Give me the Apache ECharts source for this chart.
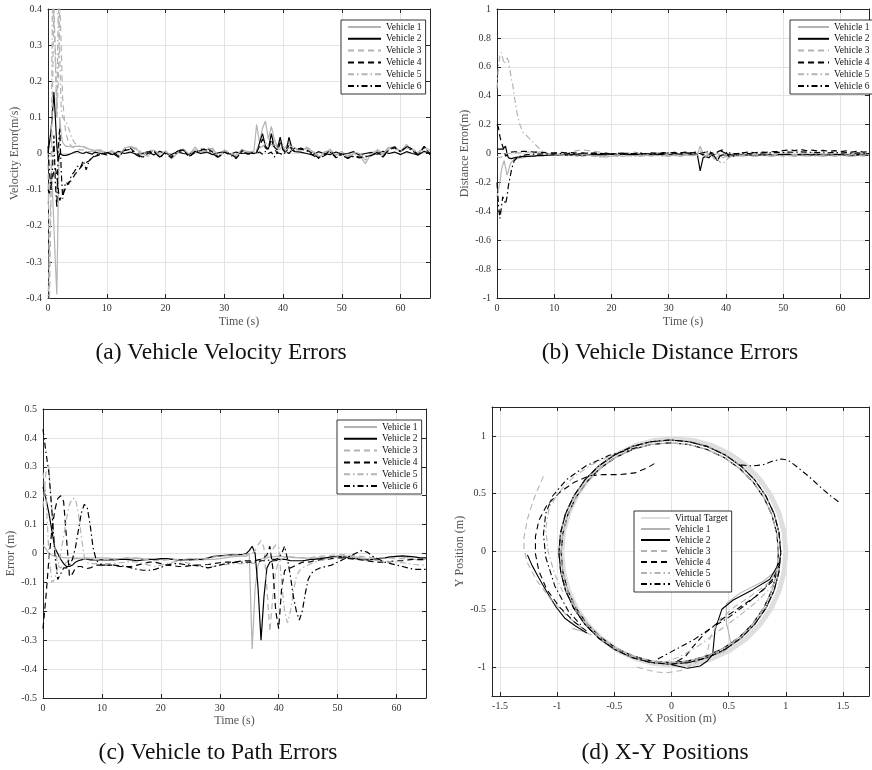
<!DOCTYPE html>
<html><head><meta charset="utf-8">
<script src="https://cdn.jsdelivr.net/npm/echarts@6/dist/echarts.min.js"></script>
<style>html,body{margin:0;padding:0;background:#fff}#c{width:872px;height:770px}</style>
</head><body><div id="c"></div>
<script>
// ---------- DATA ----------
const names = ['Vehicle 1','Vehicle 2','Vehicle 3','Vehicle 4','Vehicle 5','Vehicle 6'];

// time samples for panels (a) and (b)
const tAB = [0,0.25,0.5,0.75,1,1.25,1.5,1.75,2,2.25,2.5,2.75,3,3.5,4,4.5,5,5.5,6,6.5,7,7.5,8,9,10,
 11,12,13,14,15,16,17,18,19,20,21,22,23,24,25,26,27,28,29,30,31,32,33,34,35,
 35.5,36,36.5,37,37.5,38,38.5,39,39.5,40,40.5,41,41.5,42,
 43,44,45,46,47,48,49,50,51,52,53,54,55,56,57,58,59,60,61,62,63,64,65];

// (a) velocity errors (m/s)
const velV1 = [-0.14,-0.1,-0.06,-0.1,-0.2,-0.3,-0.39,-0.12,0.1,0.05,0.03,0.025,0.02,0.02,0.018,0.02,0.02,0.02,0.018,0.015,0.012,0.01,0.008,0.01,0.0,
 0.005,-0.012,0.015,0.02,0.012,0.0,-0.008,0.01,-0.01,0.006,-0.015,0.0,0.012,-0.006,0.018,0.0,0.01,0.015,-0.01,0.004,0.0,-0.01,0.01,0.005,0.0,
 0.08,0.03,0.07,0.09,0.04,0.075,0.04,0.02,0.03,0.01,0.02,0.03,0.012,0.015,
 0.01,0.015,0.005,-0.01,0.0,0.012,-0.005,0.006,-0.012,0.0,-0.005,-0.028,0.0,0.01,-0.006,0.015,0.02,0.004,0.025,0.01,0.0,0.02,0.008];
const velV2 = [0.0,0.03,0.06,0.11,0.17,0.1,0.02,-0.02,0.0,0.002,-0.005,-0.004,-0.005,-0.003,0.0,0.004,0.006,0.002,0.0,0.004,0.001,-0.002,0.004,0.0,0.002,
 -0.003,0.006,0.0,0.004,-0.002,0.0,0.005,-0.004,0.006,0.0,-0.003,0.005,0.0,-0.002,0.006,0.0,0.004,-0.003,0.002,0.005,-0.002,0.004,0.0,0.002,0.0,
 0.002,0.03,0.055,0.02,0.012,0.055,0.018,0.01,0.045,0.01,0.004,0.045,0.015,0.005,
 0.004,0.0,-0.004,0.005,0.0,-0.003,0.004,-0.002,0.0,0.005,-0.004,0.0,0.003,-0.002,0.006,0.0,0.004,-0.003,0.005,0.0,-0.004,0.006,0.0];
const velV3 = [0.0,-0.42,-0.42,0.15,0.42,0.42,0.1,0.2,0.42,0.3,0.15,0.1,0.06,0.03,0.02,0.015,0.012,0.01,0.01,0.008,0.005,0.006,0.004,0.005,0.0,
 0.01,-0.008,0.012,0.018,0.01,-0.004,0.005,0.012,-0.006,0.008,-0.01,0.004,0.015,-0.004,0.01,0.005,0.018,0.008,-0.008,0.01,0.002,-0.006,0.012,0.004,0.006,
 0.01,0.02,0.015,0.03,0.02,0.025,0.03,0.015,0.01,0.02,0.005,0.015,0.02,0.01,
 0.012,0.018,0.008,-0.006,0.004,0.01,-0.008,0.0,-0.01,0.004,0.0,-0.018,-0.004,0.012,0.0,0.018,0.015,0.008,0.02,0.012,0.004,0.015,0.01];
const velV4 = [-0.1,-0.11,-0.09,-0.07,-0.05,-0.04,-0.06,-0.1,-0.13,-0.12,-0.115,-0.105,-0.095,-0.08,-0.075,-0.06,-0.05,-0.04,-0.03,-0.025,-0.02,-0.012,-0.008,-0.002,0.002,
 0.004,-0.006,0.01,0.015,0.0,-0.01,0.004,0.008,-0.012,0.004,-0.008,0.006,0.012,-0.01,0.005,0.008,0.015,0.004,-0.01,0.006,0.0,-0.012,0.008,0.0,0.004,
 0.004,0.02,0.04,0.015,0.01,0.04,0.015,0.0,0.03,0.01,0.0,0.025,0.01,0.005,
 0.015,0.01,0.0,-0.012,-0.004,0.008,-0.01,0.0,-0.012,-0.006,-0.01,-0.01,-0.004,0.004,-0.008,0.012,0.018,0.006,0.02,0.012,-0.004,0.018,0.0];
const velV5 = [-0.42,-0.42,-0.1,0.42,0.42,0.3,0.1,0.42,0.42,0.12,0.1,0.1,0.09,0.07,0.045,0.03,0.022,0.02,0.02,0.016,0.012,0.01,0.01,0.008,0.004,
 0.006,-0.004,0.012,0.02,0.015,0.004,0.0,0.01,-0.004,0.008,-0.008,0.002,0.01,0.0,0.012,0.004,0.014,0.01,-0.004,0.006,0.002,-0.004,0.008,0.004,0.006,
 0.012,0.015,0.02,0.025,0.02,0.02,0.025,0.02,0.015,0.015,0.01,0.015,0.012,0.01,
 0.01,0.012,0.006,-0.004,0.002,0.008,-0.004,0.002,-0.006,0.002,0.0,-0.012,-0.002,0.008,0.0,0.012,0.014,0.006,0.016,0.01,0.004,0.012,0.008];
const velV6 = [0.02,-0.05,-0.1,-0.05,0.05,-0.08,-0.15,0.02,0.07,-0.05,-0.125,-0.1,-0.08,-0.085,-0.06,-0.05,-0.035,-0.04,-0.02,-0.045,-0.02,-0.012,-0.005,0.0,-0.004,
 0.0,-0.01,0.008,0.012,-0.004,-0.012,0.0,0.006,-0.01,0.0,-0.012,0.004,0.01,-0.008,0.002,0.012,0.01,0.0,-0.012,0.004,-0.004,-0.014,0.006,-0.002,0.0,
 0.0,0.004,-0.002,0.006,0.0,0.004,-0.01,0.002,0.0,-0.004,0.006,0.0,0.01,0.015,
 0.012,0.008,-0.004,-0.014,-0.006,0.004,-0.012,-0.004,-0.014,-0.008,-0.012,-0.008,-0.006,0.002,-0.01,0.01,0.016,0.004,0.018,0.008,-0.006,0.02,-0.004];

// (b) distance errors (m)
const distV1 = [-0.3,-0.25,-0.2,-0.12,-0.08,-0.05,-0.1,-0.15,-0.12,-0.08,-0.06,-0.05,-0.04,-0.035,-0.03,-0.03,-0.025,-0.02,-0.02,-0.018,-0.015,-0.015,-0.012,-0.01,-0.01,
 -0.012,-0.008,-0.015,-0.01,-0.018,-0.012,-0.02,-0.015,-0.025,-0.018,-0.012,-0.02,-0.015,-0.01,-0.02,-0.012,-0.018,-0.01,-0.015,-0.02,-0.012,-0.018,-0.01,-0.015,-0.01,
 0.05,0.0,-0.02,-0.03,-0.01,-0.04,-0.02,-0.015,-0.03,-0.02,-0.025,-0.015,-0.02,-0.015,
 -0.018,-0.012,-0.02,-0.01,-0.015,-0.02,-0.012,-0.008,-0.015,-0.02,-0.012,-0.018,-0.01,-0.015,-0.02,-0.012,-0.018,-0.01,-0.015,-0.02,-0.012,-0.016,-0.01];
const distV2 = [0.03,0.03,0.03,0.03,0.03,0.04,0.05,0.0,-0.03,-0.035,-0.035,-0.03,-0.03,-0.025,-0.025,-0.02,-0.02,-0.02,-0.018,-0.018,-0.015,-0.015,-0.015,-0.012,-0.01,
 -0.01,-0.012,-0.008,-0.01,-0.012,-0.01,-0.008,-0.006,-0.01,-0.005,-0.008,-0.004,-0.006,-0.008,-0.005,-0.004,-0.008,-0.006,-0.004,-0.008,-0.005,-0.004,-0.006,-0.002,-0.004,
 -0.12,-0.03,-0.02,-0.03,-0.01,-0.02,-0.05,-0.015,-0.01,-0.01,-0.008,-0.01,-0.008,-0.01,
 -0.01,-0.008,-0.012,-0.01,-0.008,-0.01,-0.006,-0.008,-0.005,-0.01,-0.006,-0.008,-0.01,-0.006,-0.008,-0.01,-0.006,-0.008,-0.01,-0.012,-0.008,-0.01,-0.012];
const distV3 = [-0.02,-0.03,-0.03,-0.03,-0.02,-0.01,0.0,0.0,0.0,0.0,0.0,0.005,0.005,0.005,0.005,0.01,0.01,0.01,0.01,0.01,0.01,0.01,0.01,0.0,-0.01,
 -0.005,0.0,0.01,0.02,0.025,0.02,0.015,0.01,0.0,-0.005,-0.01,0.0,0.005,0.01,0.0,-0.01,0.0,0.005,0.0,-0.01,-0.005,0.0,-0.008,0.0,-0.005,
 0.02,-0.02,-0.01,0.0,-0.02,-0.01,0.0,-0.01,0.0,-0.01,0.005,0.0,-0.005,0.0,
 -0.005,0.0,-0.01,-0.005,0.0,-0.01,-0.005,0.005,0.0,-0.01,-0.005,0.0,0.005,-0.005,0.0,-0.01,0.0,0.005,-0.005,0.0,-0.008,0.0,-0.005];
const distV4 = [0.2,0.18,0.12,0.08,0.05,0.02,-0.02,-0.02,0.0,0.01,0.01,0.01,0.012,0.012,0.012,0.015,0.015,0.012,0.012,0.01,0.01,0.008,0.008,0.005,0.005,
 0.008,0.004,0.006,0.002,0.004,0.0,0.004,0.002,-0.002,0.0,-0.004,0.0,0.002,-0.004,0.0,-0.002,0.004,0.0,0.006,0.004,0.008,0.004,0.01,0.005,0.01,
 0.0,0.005,0.01,-0.01,0.005,0.0,0.01,0.02,0.025,0.01,-0.02,-0.03,-0.01,0.0,
 0.005,0.01,0.005,0.01,0.008,0.012,0.015,0.02,0.025,0.02,0.028,0.02,0.024,0.018,0.022,0.015,0.02,0.012,0.018,0.01,0.015,0.01,0.012];
const distV5 = [0.45,0.6,0.68,0.7,0.66,0.62,0.63,0.66,0.64,0.58,0.52,0.48,0.4,0.28,0.2,0.15,0.13,0.11,0.09,0.07,0.05,0.03,0.015,0.0,-0.005,
 -0.01,-0.015,-0.01,-0.02,-0.015,-0.01,-0.02,-0.025,-0.02,-0.015,-0.02,-0.01,-0.015,-0.02,-0.012,-0.018,-0.01,-0.015,-0.02,-0.012,-0.015,-0.02,-0.01,-0.015,-0.012,
 -0.01,0.0,-0.02,-0.01,-0.02,-0.03,-0.04,-0.06,-0.07,-0.05,-0.03,-0.02,-0.015,-0.01,
 -0.015,-0.01,-0.02,-0.015,-0.01,-0.018,-0.012,-0.02,-0.015,-0.01,-0.018,-0.012,-0.02,-0.015,-0.01,-0.012,-0.018,-0.01,-0.015,-0.02,-0.012,-0.016,-0.01];
const distV6 = [-0.2,-0.35,-0.45,-0.38,-0.3,-0.32,-0.35,-0.3,-0.22,-0.17,-0.12,-0.08,-0.05,-0.03,-0.02,-0.015,-0.01,-0.008,-0.006,-0.005,-0.004,-0.004,-0.003,-0.002,-0.002,
 0.0,-0.004,0.002,-0.002,0.0,0.004,-0.002,0.0,0.002,-0.004,0.0,0.002,-0.002,0.0,0.004,0.0,-0.002,0.002,0.0,0.004,0.002,0.0,0.004,0.002,0.0,
 0.0,-0.01,0.005,0.02,0.0,-0.01,0.01,0.02,0.01,0.0,0.005,0.0,0.0,0.0,
 0.002,0.0,0.004,0.002,0.006,0.004,0.008,0.006,0.01,0.008,0.012,0.01,0.008,0.006,0.01,0.004,0.008,0.002,0.006,0.0,0.004,0.002,0.0];

// (c) vehicle-to-path errors (m)
const tC = [0,0.5,1,1.5,2,2.5,3,3.5,4,4.5,5,5.5,6,6.5,7,7.5,8,8.5,9,9.5,10,
 11,12,13,14,15,16,17,18,19,20,21,22,23,24,25,26,27,28,29,30,31,32,33,34,
 34.5,35,35.5,36,36.5,37,37.5,38,38.5,39,39.5,40,40.5,41,41.5,42,42.5,43,43.5,44,44.5,45,45.5,46,
 47,48,49,50,51,52,53,54,55,56,57,58,59,60,61,62,63,64,65];
const pathV1 = [0.03,0.015,0.0,-0.005,-0.01,-0.012,-0.012,-0.015,-0.015,-0.015,-0.015,-0.015,-0.016,-0.016,-0.015,-0.015,-0.016,-0.016,-0.015,-0.015,-0.015,
 -0.016,-0.018,-0.02,-0.018,-0.016,-0.015,-0.018,-0.02,-0.022,-0.02,-0.018,-0.02,-0.022,-0.02,-0.018,-0.02,-0.022,-0.02,-0.02,-0.018,-0.015,-0.012,-0.01,-0.008,
 -0.01,0.0,-0.33,-0.12,-0.04,-0.02,-0.015,-0.015,-0.012,-0.012,-0.01,-0.01,-0.01,-0.012,-0.012,-0.012,-0.014,-0.014,-0.015,-0.015,-0.016,-0.016,-0.016,-0.015,
 -0.015,-0.014,-0.012,-0.01,-0.008,-0.01,-0.012,-0.015,-0.018,-0.02,-0.018,-0.015,-0.012,-0.01,-0.012,-0.015,-0.02,-0.025,-0.02];
const pathV2 = [0.23,0.19,0.14,0.08,0.02,0.0,-0.02,-0.035,-0.045,-0.045,-0.04,-0.03,-0.025,-0.022,-0.02,-0.02,-0.022,-0.022,-0.022,-0.022,-0.022,
 -0.022,-0.022,-0.02,-0.02,-0.022,-0.025,-0.022,-0.02,-0.02,-0.018,-0.018,-0.02,-0.022,-0.022,-0.022,-0.02,-0.02,-0.015,-0.01,-0.008,-0.006,-0.005,-0.004,-0.003,
 0.0,0.01,0.025,0.0,-0.12,-0.3,-0.15,-0.05,-0.03,-0.025,-0.025,-0.02,-0.02,-0.02,-0.022,-0.025,-0.025,-0.025,-0.025,-0.025,-0.024,-0.022,-0.02,-0.02,
 -0.018,-0.015,-0.012,-0.01,-0.012,-0.015,-0.018,-0.02,-0.022,-0.02,-0.018,-0.015,-0.012,-0.01,-0.008,-0.01,-0.012,-0.015,-0.015];
const pathV3 = [0.16,0.28,0.3,0.15,0.02,-0.04,-0.05,-0.04,-0.03,-0.025,-0.02,-0.018,-0.018,-0.02,-0.02,-0.018,-0.018,-0.02,-0.02,-0.02,-0.02,
 -0.02,-0.02,-0.018,-0.015,-0.015,-0.018,-0.02,-0.022,-0.025,-0.025,-0.022,-0.02,-0.02,-0.022,-0.025,-0.022,-0.02,-0.015,-0.012,-0.01,-0.008,-0.006,-0.005,-0.004,
 -0.003,-0.002,0.0,0.01,0.03,0.045,0.02,-0.12,-0.27,-0.15,-0.06,-0.03,-0.02,-0.015,-0.012,-0.012,-0.012,-0.014,-0.014,-0.015,-0.015,-0.015,-0.014,-0.012,
 -0.01,-0.008,-0.006,-0.005,-0.004,-0.006,-0.008,-0.01,-0.012,-0.014,-0.015,-0.015,-0.016,-0.018,-0.018,-0.02,-0.02,-0.022,-0.02];
const pathV4 = [-0.26,-0.15,-0.02,0.08,0.15,0.19,0.2,0.18,0.05,-0.08,-0.07,-0.05,-0.045,-0.045,-0.05,-0.052,-0.05,-0.045,-0.04,-0.04,-0.04,
 -0.04,-0.04,-0.045,-0.045,-0.045,-0.04,-0.035,-0.03,-0.03,-0.035,-0.04,-0.042,-0.045,-0.045,-0.042,-0.04,-0.04,-0.038,-0.035,-0.032,-0.03,-0.03,-0.028,-0.025,
 -0.025,-0.025,-0.025,-0.025,-0.022,-0.02,-0.015,-0.005,0.025,-0.05,-0.2,-0.26,-0.12,-0.06,-0.05,-0.05,-0.045,-0.04,-0.035,-0.03,-0.03,-0.03,-0.028,-0.025,
 -0.022,-0.02,-0.018,-0.015,-0.015,-0.018,-0.02,-0.022,-0.025,-0.028,-0.03,-0.03,-0.028,-0.025,-0.025,-0.022,-0.02,-0.02,-0.02];
const pathV5 = [0.28,0.2,0.0,-0.1,-0.09,-0.05,0.0,0.06,0.12,0.17,0.19,0.19,0.14,0.06,-0.01,-0.03,-0.035,-0.035,-0.035,-0.035,-0.035,
 -0.035,-0.035,-0.032,-0.03,-0.028,-0.03,-0.035,-0.04,-0.045,-0.04,-0.035,-0.03,-0.028,-0.03,-0.035,-0.04,-0.045,-0.05,-0.045,-0.04,-0.038,-0.036,-0.035,-0.035,
 -0.035,-0.035,-0.034,-0.033,-0.03,-0.025,-0.02,-0.01,0.0,0.015,0.03,0.02,-0.1,-0.2,-0.24,-0.2,-0.13,-0.08,-0.06,-0.05,-0.045,-0.04,-0.035,-0.03,
 -0.025,-0.02,-0.015,-0.012,-0.01,-0.012,-0.015,-0.018,-0.02,-0.022,-0.025,-0.025,-0.028,-0.03,-0.032,-0.035,-0.038,-0.04,-0.04];
const pathV6 = [0.43,0.35,0.28,0.15,0.0,-0.09,-0.07,-0.05,-0.05,-0.04,-0.02,0.02,0.08,0.14,0.17,0.16,0.1,0.02,-0.02,-0.035,-0.04,
 -0.04,-0.04,-0.042,-0.045,-0.05,-0.055,-0.058,-0.058,-0.055,-0.048,-0.04,-0.035,-0.035,-0.038,-0.04,-0.042,-0.045,-0.05,-0.045,-0.04,-0.035,-0.032,-0.03,-0.03,
 -0.03,-0.03,-0.03,-0.03,-0.028,-0.025,-0.025,-0.025,-0.022,-0.02,-0.02,-0.015,0.0,0.025,-0.02,-0.08,-0.15,-0.2,-0.23,-0.2,-0.14,-0.09,-0.07,-0.06,
 -0.05,-0.045,-0.04,-0.03,-0.02,-0.01,0.0,0.01,0.005,-0.01,-0.02,-0.03,-0.035,-0.04,-0.045,-0.05,-0.055,-0.055,-0.055];

// (d) X-Y positions (m)
const targetX = [1.0,0.985,0.941,0.869,0.771,0.65,0.51,0.355,0.19,0.02,-0.15,-0.315,-0.47,-0.61,-0.731,-0.829,-0.901,-0.945,-0.96,-0.945,-0.901,-0.829,-0.731,-0.61,-0.47,-0.315,-0.15,0.02,0.19,0.355,0.51,0.65,0.771,0.869,0.941,0.985,1.0];
const targetY = [-0.005,0.165,0.33,0.485,0.625,0.746,0.844,0.916,0.96,0.975,0.96,0.916,0.844,0.746,0.625,0.485,0.33,0.165,-0.005,-0.175,-0.34,-0.495,-0.635,-0.756,-0.854,-0.926,-0.97,-0.985,-0.97,-0.926,-0.854,-0.756,-0.635,-0.495,-0.34,-0.175,-0.005];
const loopX = [0.955,0.94,0.897,0.825,0.728,0.609,0.47,0.317,0.153,-0.015,-0.183,-0.347,-0.5,-0.639,-0.758,-0.855,-0.927,-0.97,-0.985,-0.97,-0.927,-0.855,-0.758,-0.639,-0.5,-0.347,-0.183,-0.015,0.153,0.317,0.47,0.609,0.728,0.825,0.897,0.94,0.955];
const loopY = [-0.005,0.163,0.327,0.48,0.619,0.738,0.835,0.907,0.95,0.965,0.95,0.907,0.835,0.738,0.619,0.48,0.327,0.163,-0.005,-0.173,-0.337,-0.49,-0.629,-0.748,-0.845,-0.917,-0.96,-0.975,-0.96,-0.917,-0.845,-0.748,-0.629,-0.49,-0.337,-0.173,-0.005];
const loop2X = [0.935,0.921,0.878,0.808,0.713,0.596,0.46,0.31,0.15,-0.015,-0.18,-0.34,-0.49,-0.626,-0.743,-0.838,-0.908,-0.951,-0.965,-0.951,-0.908,-0.838,-0.743,-0.626,-0.49,-0.34,-0.18,-0.015,0.15,0.31,0.46,0.596,0.713,0.808,0.878,0.921,0.935];
const loop2Y = [-0.01,0.155,0.315,0.465,0.601,0.718,0.813,0.883,0.926,0.94,0.926,0.883,0.813,0.718,0.601,0.465,0.315,0.155,-0.01,-0.175,-0.335,-0.485,-0.621,-0.738,-0.833,-0.903,-0.946,-0.96,-0.946,-0.903,-0.833,-0.738,-0.621,-0.485,-0.335,-0.175,-0.01];

const xyV1StartX = [-0.87,-0.78,-0.7];
const xyV1StartY = [-0.665,-0.69,-0.72];
const xyV1ChordX = [0.3,0.45,0.52,0.5,0.48,0.48,0.6,0.8,0.92,0.96];
const xyV1ChordY = [-0.92,-0.87,-0.81,-0.7,-0.62,-0.45,-0.36,-0.26,-0.16,-0.01];
const xyV2StartX = [-1.26,-1.22,-1.16,-1.09,-1.01,-0.93,-0.84,-0.74];
const xyV2StartY = [-0.03,-0.12,-0.23,-0.35,-0.48,-0.58,-0.645,-0.705];
const xyV2ChordX = [0.0,0.14,0.25,0.31,0.36,0.38,0.44,0.54,0.71,0.86,0.94];
const xyV2ChordY = [-0.98,-1.01,-0.99,-0.95,-0.89,-0.68,-0.5,-0.42,-0.33,-0.24,-0.1];
const xyV3StartX = [-1.12,-1.16,-1.21,-1.26,-1.29,-1.29,-1.26,-1.18,-1.05,-0.9,-0.76];
const xyV3StartY = [0.65,0.56,0.44,0.28,0.12,0.02,-0.1,-0.25,-0.42,-0.57,-0.68];
const xyV3ChordX = [-0.3,-0.15,-0.05,0.08,0.2,0.31,0.34,0.42,0.55,0.7,0.85,0.93];
const xyV3ChordY = [-1.0,-1.04,-1.05,-1.03,-0.97,-0.89,-0.74,-0.59,-0.48,-0.38,-0.27,-0.15];
const xyV4StartX = [-0.15,-0.22,-0.32,-0.45,-0.6,-0.72,-0.85,-0.98,-1.09,-1.16,-1.19,-1.19,-1.16,-1.09,-0.98,-0.85,-0.74];
const xyV4StartY = [0.76,0.72,0.68,0.665,0.665,0.655,0.6,0.51,0.4,0.27,0.13,-0.02,-0.17,-0.33,-0.48,-0.61,-0.69];
const xyV4ChordX = [0.05,0.12,0.19,0.3,0.45,0.6,0.75,0.88,0.94];
const xyV4ChordY = [-0.95,-0.91,-0.82,-0.7,-0.58,-0.48,-0.38,-0.26,-0.12];
const xyV5StartX = [-0.55,-0.7,-0.85,-0.98,-1.07,-1.1,-1.08,-1.02,-0.95];
const xyV5StartY = [0.82,0.75,0.65,0.52,0.38,0.2,0.0,-0.2,-0.35];
const xyV5ChordX = [-0.1,0.05,0.2,0.3,0.45,0.6,0.75,0.88,0.94];
const xyV5ChordY = [-0.97,-0.92,-0.84,-0.77,-0.66,-0.55,-0.43,-0.3,-0.18];
const xyV6StartX = [1.46,1.38,1.3,1.2,1.1,1.02,0.96,0.88,0.8,0.7,0.6];
const xyV6StartY = [0.43,0.49,0.56,0.65,0.73,0.79,0.8,0.78,0.75,0.74,0.75];
const xyV6OuterX = [-0.3,-0.55,-0.75,-0.92,-1.04,-1.1,-1.12,-1.1,-1.02,-0.9,-0.78];
const xyV6OuterY = [0.9,0.83,0.74,0.62,0.48,0.33,0.15,-0.05,-0.3,-0.52,-0.65];
const xyV6ChordX = [-0.12,0.05,0.2,0.35,0.5,0.65,0.8,0.92];
const xyV6ChordY = [-0.93,-0.84,-0.76,-0.66,-0.57,-0.46,-0.33,-0.2];

const captions = ['(a) Vehicle Velocity Errors','(b) Vehicle Distance Errors','(c) Vehicle to Path Errors','(d) X-Y Positions'];

// ---------- CHART ----------
const SERIF = '"Liberation Serif","Times New Roman",serif';
const AX = '#262626';
const GRAY = '#b3b3b3';
const styles = [
  {color: GRAY, type: 'solid'},
  {color: '#000', type: 'solid'},
  {color: GRAY, type: [6, 4]},
  {color: '#000', type: [6, 4]},
  {color: GRAY, type: [6, 3, 1.5, 3]},
  {color: '#000', type: [6, 3, 1.5, 3]}
];

const grids = [
  {left: 48, top: 9, width: 382, height: 289},
  {left: 497, top: 9, width: 382, height: 289},
  {left: 43, top: 409, width: 383, height: 289},
  {left: 492, top: 407, width: 381, height: 289}
];

const xAxes = [], yAxes = [];
const fmt10 = v => (Math.abs(v % 10) < 1e-9 ? String(v) : '');
const fmtDec = v => String(Math.round(v * 10) / 10);
const fmtHalf = v => { const r = Math.round(v * 2) / 2; return Math.abs(r - v) < 1e-6 ? String(r) : ''; };

function mkAxes(gi, o) {
  const tick = {show: true, inside: true, length: 4, lineStyle: {color: AX, width: 1}};
  const line = {show: true, onZero: false, lineStyle: {color: AX, width: 1}};
  const split = {show: true, lineStyle: {color: '#e3e3e3', width: 1}};
  const nameStyle = {color: '#555', fontFamily: SERIF, fontSize: 12};
  const lab = {color: '#333', fontFamily: SERIF, fontSize: 10};
  xAxes.push({gridIndex: gi, type: 'value', position: 'bottom', min: o.xmin, max: o.xmax, interval: o.xint,
    axisLine: line, axisTick: tick, axisLabel: Object.assign({margin: 5, formatter: o.fx}, lab),
    splitLine: split, name: o.xname, nameLocation: 'middle', nameGap: o.xgap, nameTextStyle: nameStyle});
  xAxes.push({gridIndex: gi, type: 'value', position: 'top', min: o.xmin, max: o.xmax, interval: o.xint,
    axisLine: line, axisTick: tick, axisLabel: {show: false}, splitLine: {show: false}});
  yAxes.push({gridIndex: gi, type: 'value', position: 'left', min: o.ymin, max: o.ymax, interval: o.yint,
    axisLine: line, axisTick: tick, axisLabel: Object.assign({margin: 6, formatter: o.fy}, lab),
    splitLine: split, name: o.yname, nameLocation: 'middle', nameRotate: 90, nameGap: o.ygap, nameTextStyle: nameStyle});
  yAxes.push({gridIndex: gi, type: 'value', position: 'right', min: o.ymin, max: o.ymax, interval: o.yint,
    axisLine: line, axisTick: tick, axisLabel: {show: false}, splitLine: {show: false}});
}
mkAxes(0, {xmin: 0, xmax: 65, xint: 10, ymin: -0.4, ymax: 0.4, yint: 0.1, xname: 'Time (s)', yname: 'Velocity Error(m/s)', xgap: 18, ygap: 27, fx: fmt10, fy: fmtDec});
mkAxes(1, {xmin: 0, xmax: 65, xint: 10, ymin: -1, ymax: 1, yint: 0.2, xname: 'Time (s)', yname: 'Distance Error(m)', xgap: 18, ygap: 26, fx: fmt10, fy: fmtDec});
mkAxes(2, {xmin: 0, xmax: 65, xint: 10, ymin: -0.5, ymax: 0.5, yint: 0.1, xname: 'Time (s)', yname: 'Error (m)', xgap: 17, ygap: 25, fx: fmt10, fy: fmtDec});
mkAxes(3, {xmin: -1.57, xmax: 1.727, xint: undefined, ymin: -1.25, ymax: 1.25, yint: undefined, xname: 'X Position (m)', yname: 'Y Position (m)', xgap: 17, ygap: 23, fx: fmtHalf, fy: fmtHalf});

const zip = (a, b) => a.map((x, i) => [x, b[i]]);
const joinSegs = segs => { const out = []; segs.forEach((s, i) => { if (i) out.push(['-', '-']); s.forEach(p => out.push(p)); }); return out; };

const series = [];
function addLine(gi, k, data, w) {
  series.push({name: names[k], type: 'line', xAxisIndex: gi * 2, yAxisIndex: gi * 2, data: data,
    symbol: 'none', showSymbol: false, clip: true, silent: true, connectNulls: false,
    lineStyle: {color: styles[k].color, type: styles[k].type, width: w}, itemStyle: {color: styles[k].color},
    emphasis: {disabled: true}});
}
[velV1, velV2, velV3, velV4, velV5, velV6].forEach((v, k) => addLine(0, k, zip(tAB, v), 1.2));
[distV1, distV2, distV3, distV4, distV5, distV6].forEach((v, k) => addLine(1, k, zip(tAB, v), 1.2));
[pathV1, pathV2, pathV3, pathV4, pathV5, pathV6].forEach((v, k) => addLine(2, k, zip(tC, v), 1.2));

series.push({name: 'Virtual Target', type: 'line', xAxisIndex: 6, yAxisIndex: 6, data: zip(targetX, targetY),
  symbol: 'none', silent: true, lineStyle: {color: '#dedede', width: 5}, itemStyle: {color: '#dedede'}, z: 1});
const L1 = zip(loopX, loopY), L2 = zip(loop2X, loop2Y);
addLine(3, 0, joinSegs([zip(xyV1StartX, xyV1StartY), L2, zip(xyV1ChordX, xyV1ChordY)]), 1.1);
addLine(3, 1, joinSegs([zip(xyV2StartX, xyV2StartY), L1, zip(xyV2ChordX, xyV2ChordY)]), 1.1);
addLine(3, 2, joinSegs([zip(xyV3StartX, xyV3StartY), L1, zip(xyV3ChordX, xyV3ChordY)]), 1.1);
addLine(3, 3, joinSegs([zip(xyV4StartX, xyV4StartY), L2, zip(xyV4ChordX, xyV4ChordY)]), 1.1);
addLine(3, 4, joinSegs([zip(xyV5StartX, xyV5StartY), L2, zip(xyV5ChordX, xyV5ChordY)]), 1.1);
addLine(3, 5, joinSegs([zip(xyV6StartX, xyV6StartY), L1, zip(xyV6OuterX, xyV6OuterY), zip(xyV6ChordX, xyV6ChordY)]), 1.1);

function mkLegend(left, top, data, iw, gap, padL) {
  return {show: true, orient: 'vertical', left: left, top: top, data: data, selectedMode: false,
    itemWidth: iw, itemHeight: 10, itemGap: gap, padding: [2, 4, 3, padL],
    backgroundColor: '#fff', borderColor: '#000', borderWidth: 0.8, borderRadius: 0,
    itemStyle: {opacity: 0},
    textStyle: {fontFamily: SERIF, fontSize: 9.5, color: '#111', lineHeight: 10}};
}
const legends = [
  mkLegend(341, 20, names, 33, 1.8, 6),
  mkLegend(790, 20, names, 31, 1.8, 7),
  mkLegend(337, 420, names, 33, 1.8, 6),
  mkLegend(634, 511, ['Virtual Target'].concat(names), 29, 1, 6)
];

const capPos = [[221, 353], [670, 353], [218, 753], [665, 753]];
const graphic = captions.map((c, i) => ({type: 'text', x: capPos[i][0], y: capPos[i][1], silent: true,
  style: {text: c, fontFamily: SERIF, fontSize: 23.5, fill: '#111', align: 'center', verticalAlign: 'middle'}}));

const chart = echarts.init(document.getElementById('c'), null, {renderer: 'canvas'});
chart.setOption({
  animation: false,
  backgroundColor: '#fff',
  grid: grids,
  xAxis: xAxes,
  yAxis: yAxes,
  legend: legends,
  series: series,
  graphic: graphic
});
</script></body></html>
